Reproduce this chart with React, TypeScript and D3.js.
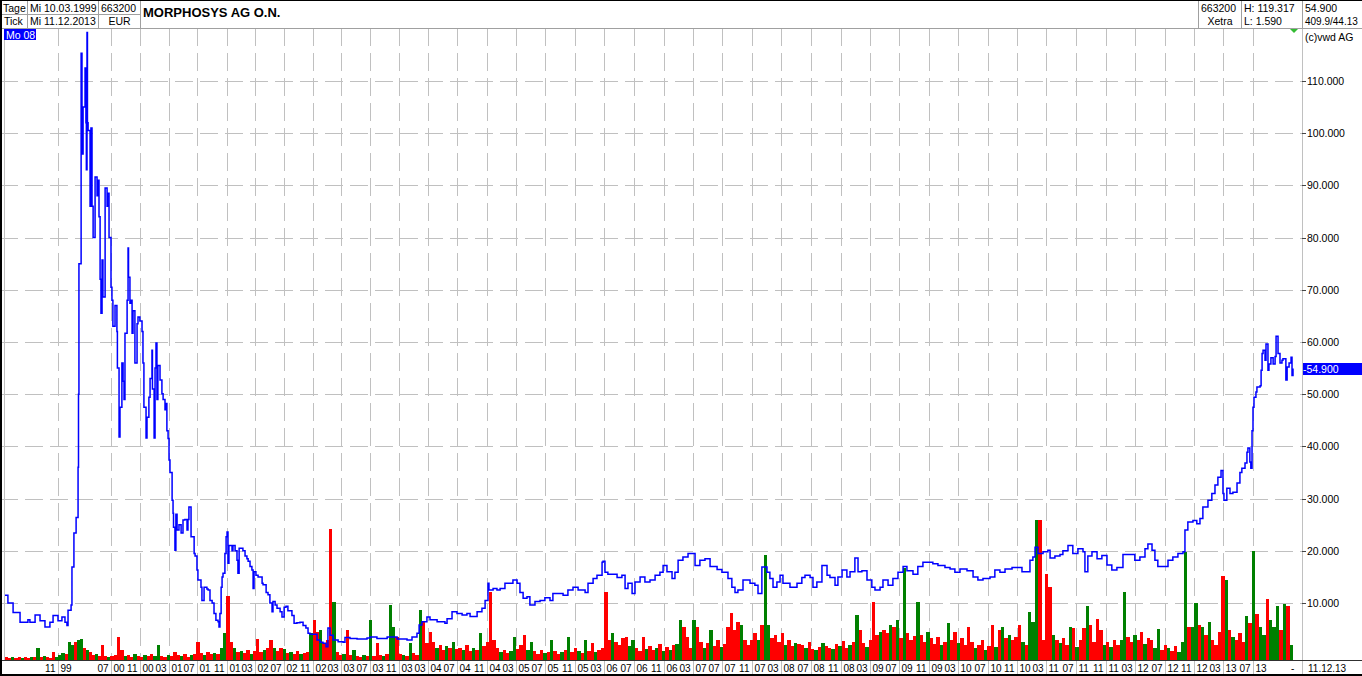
import React from 'react';
import * as d3 from 'd3';

// ---------- DATA ----------
// Daily close (EUR)
const priceSeries: [string, number][] = [
  ["1999-03-10", 11.5], ["1999-03-23", 10.0], ["1999-04-15", 8.2], ["1999-05-16", 6.3], ["1999-06-07", 6.3],
  ["1999-06-20", 6.8], ["1999-06-29", 6.3], ["1999-07-22", 7.7], ["1999-08-13", 6.6], ["1999-09-04", 5.4],
  ["1999-09-26", 6.3], ["1999-10-10", 7.6], ["1999-11-01", 6.6], ["1999-11-19", 7.3], ["1999-12-03", 6.3],
  ["1999-12-12", 5.7], ["1999-12-17", 8.6], ["1999-12-31", 9.6], ["2000-01-04", 16.9], ["2000-01-13", 23.4],
  ["2000-01-23", 26.4], ["2000-02-01", 36.0], ["2000-02-03", 50.0], ["2000-02-05", 75.0], ["2000-02-15", 115.3],
  ["2000-02-19", 96.0], ["2000-02-24", 105.0], ["2000-03-04", 112.5], ["2000-03-08", 102.0], ["2000-03-10", 93.0],
  ["2000-03-13", 119.3], ["2000-03-15", 102.0], ["2000-03-18", 100.5], ["2000-03-27", 86.0], ["2000-03-31", 101.0],
  ["2000-04-05", 86.0], ["2000-04-10", 80.0], ["2000-04-19", 91.6], ["2000-04-28", 88.0], ["2000-05-02", 91.0],
  ["2000-05-07", 84.0], ["2000-05-12", 72.0], ["2000-05-16", 65.5], ["2000-05-21", 75.7], ["2000-05-25", 68.6],
  ["2000-06-04", 89.5], ["2000-06-13", 86.0], ["2000-06-15", 88.5], ["2000-06-22", 80.0], ["2000-07-01", 70.5],
  ["2000-07-05", 68.0], ["2000-07-09", 63.0], ["2000-07-18", 67.0], ["2000-07-26", 62.0], ["2000-07-28", 55.0],
  ["2000-08-04", 41.8], ["2000-08-08", 47.5], ["2000-08-16", 56.0], ["2000-08-21", 52.5], ["2000-08-25", 49.0],
  ["2000-08-29", 61.7], ["2000-09-07", 68.0], ["2000-09-11", 78.0], ["2000-09-13", 72.4], ["2000-09-19", 67.4],
  ["2000-09-23", 68.0], ["2000-09-28", 61.7], ["2000-10-02", 66.0], ["2000-10-10", 56.0], ["2000-10-19", 63.5],
  ["2000-10-23", 64.8], ["2000-10-31", 64.0], ["2000-11-09", 62.0], ["2000-11-13", 56.0], ["2000-11-17", 47.5],
  ["2000-11-26", 41.6], ["2000-11-30", 45.6], ["2000-12-08", 49.4], ["2000-12-13", 53.0], ["2000-12-21", 58.4],
  ["2000-12-23", 51.0], ["2000-12-30", 41.6], ["2001-01-03", 55.0], ["2001-01-07", 59.8], ["2001-01-11", 49.0],
  ["2001-01-15", 55.5], ["2001-01-24", 52.7], ["2001-02-01", 50.1], ["2001-02-06", 49.0], ["2001-02-14", 47.0],
  ["2001-02-18", 48.2], ["2001-02-22", 43.0], ["2001-02-27", 41.5], ["2001-03-03", 37.4], ["2001-03-07", 35.0],
  ["2001-03-16", 29.7], ["2001-03-20", 27.2], ["2001-03-22", 24.5], ["2001-03-28", 20.1], ["2001-04-01", 27.0],
  ["2001-04-06", 24.0], ["2001-04-14", 25.0], ["2001-04-23", 23.4], ["2001-05-01", 25.9], ["2001-05-09", 26.0],
  ["2001-05-18", 24.0], ["2001-05-22", 26.0], ["2001-05-26", 28.4], ["2001-06-04", 22.7], ["2001-06-12", 22.7],
  ["2001-06-17", 19.5], ["2001-06-21", 19.0], ["2001-06-29", 16.3], ["2001-07-03", 14.4], ["2001-07-16", 13.0],
  ["2001-07-20", 10.5], ["2001-07-29", 13.0], ["2001-08-10", 12.7], ["2001-08-15", 12.5], ["2001-08-23", 10.5],
  ["2001-09-01", 10.0], ["2001-09-09", 8.0], ["2001-09-17", 6.7], ["2001-09-26", 6.4], ["2001-09-30", 5.4],
  ["2001-10-04", 8.0], ["2001-10-09", 13.0], ["2001-10-13", 15.0], ["2001-10-17", 15.7], ["2001-10-25", 19.5],
  ["2001-10-30", 22.7], ["2001-11-03", 23.6], ["2001-11-07", 17.6], ["2001-11-11", 21.0], ["2001-11-16", 21.0],
  ["2001-11-24", 20.0], ["2001-11-28", 21.0], ["2001-12-07", 20.0], ["2001-12-15", 18.2], ["2001-12-19", 15.7],
  ["2001-12-24", 20.5], ["2002-01-01", 20.5], ["2002-01-09", 20.0], ["2002-01-18", 19.0], ["2002-01-26", 18.5],
  ["2002-01-31", 18.0], ["2002-02-08", 17.0], ["2002-02-16", 16.3], ["2002-02-21", 12.8], ["2002-02-25", 16.0],
  ["2002-03-05", 15.3], ["2002-03-14", 15.0], ["2002-03-31", 13.8], ["2002-04-04", 13.5], ["2002-04-17", 12.0],
  ["2002-04-25", 11.6], ["2002-05-03", 10.0], ["2002-05-12", 8.3], ["2002-05-16", 10.3], ["2002-05-25", 9.6],
  ["2002-06-02", 9.0], ["2002-06-15", 8.3], ["2002-06-23", 7.3], ["2002-07-02", 9.2], ["2002-07-10", 9.4],
  ["2002-07-18", 8.5], ["2002-08-04", 7.6], ["2002-08-13", 6.1], ["2002-08-25", 6.2], ["2002-09-07", 6.3],
  ["2002-09-20", 5.7], ["2002-10-02", 5.2], ["2002-10-11", 4.2], ["2002-10-19", 4.0], ["2002-11-01", 4.0],
  ["2002-11-18", 2.9], ["2002-12-01", 2.5], ["2002-12-13", 2.3], ["2002-12-26", 1.6], ["2003-01-03", 5.2],
  ["2003-01-12", 3.8], ["2003-01-25", 2.9], ["2003-02-15", 2.6], ["2003-03-08", 2.5], ["2003-03-16", 3.4],
  ["2003-04-06", 3.2], ["2003-05-06", 3.1], ["2003-06-17", 3.3], ["2003-06-30", 3.5], ["2003-07-29", 3.2],
  ["2003-09-10", 3.5], ["2003-10-22", 3.1], ["2003-12-03", 2.9], ["2003-12-24", 3.5], ["2004-01-14", 4.2],
  ["2004-01-23", 5.8], ["2004-02-04", 6.4], ["2004-02-25", 7.3], ["2004-03-09", 6.8], ["2004-04-08", 6.4],
  ["2004-05-11", 6.1], ["2004-05-20", 7.0], ["2004-06-10", 8.3], ["2004-07-01", 8.0], ["2004-07-22", 7.7],
  ["2004-08-11", 8.0], ["2004-08-24", 7.4], ["2004-09-22", 8.3], ["2004-10-12", 9.0], ["2004-10-25", 10.5],
  ["2004-11-06", 13.8], ["2004-11-10", 12.5], ["2004-11-27", 12.8], ["2004-12-13", 12.5], ["2004-12-26", 12.8],
  ["2005-01-15", 13.8], ["2005-01-28", 13.8], ["2005-02-17", 14.4], ["2005-03-06", 13.8], ["2005-03-18", 12.0],
  ["2005-03-31", 10.9], ["2005-04-16", 11.2], ["2005-04-28", 9.6], ["2005-05-19", 10.3], ["2005-06-09", 10.5],
  ["2005-06-29", 11.0], ["2005-07-20", 10.5], ["2005-08-01", 11.8], ["2005-08-30", 11.8], ["2005-09-12", 11.5],
  ["2005-10-02", 12.5], ["2005-10-23", 13.0], ["2005-11-13", 12.5], ["2005-12-12", 12.0], ["2005-12-24", 13.8],
  ["2006-01-14", 14.7], ["2006-01-30", 15.3], ["2006-02-20", 17.8], ["2006-02-24", 18.0], ["2006-03-04", 15.9],
  ["2006-03-16", 15.5], ["2006-04-06", 15.5], ["2006-04-23", 14.9], ["2006-05-13", 15.3], ["2006-05-26", 12.8],
  ["2006-06-07", 13.8], ["2006-06-24", 11.8], ["2006-07-06", 14.0], ["2006-07-27", 15.0], ["2006-08-16", 14.0],
  ["2006-09-06", 14.4], ["2006-09-27", 15.3], ["2006-10-17", 15.9], ["2006-10-30", 17.2], ["2006-11-15", 16.0],
  ["2006-12-06", 14.7], ["2006-12-18", 15.9], ["2006-12-31", 18.2], ["2007-01-20", 18.8], ["2007-02-10", 19.5],
  ["2007-03-02", 19.5], ["2007-03-11", 17.2], ["2007-03-31", 18.2], ["2007-04-21", 18.5], ["2007-05-12", 17.0],
  ["2007-06-10", 16.4], ["2007-06-30", 15.9], ["2007-07-25", 14.7], ["2007-08-10", 13.0], ["2007-08-23", 12.0],
  ["2007-09-04", 12.5], ["2007-09-25", 14.4], ["2007-10-24", 13.8], ["2007-11-13", 13.4], ["2007-11-26", 11.8],
  ["2007-12-12", 16.9], ["2008-01-02", 15.9], ["2008-01-14", 14.7], ["2008-01-27", 13.0], ["2008-02-12", 14.0],
  ["2008-02-25", 15.3], ["2008-03-08", 13.8], ["2008-04-06", 13.0], ["2008-05-05", 13.8], ["2008-05-25", 14.9],
  ["2008-06-07", 15.3], ["2008-06-28", 14.9], ["2008-07-10", 13.0], ["2008-07-26", 14.0], ["2008-08-16", 17.2],
  ["2008-09-06", 15.3], ["2008-09-18", 14.9], ["2008-10-09", 13.4], ["2008-10-21", 15.0], ["2008-11-07", 16.3],
  ["2008-11-27", 15.0], ["2008-12-10", 16.0], ["2008-12-30", 18.6], ["2009-01-12", 16.0], ["2009-01-28", 16.2],
  ["2009-02-18", 14.4], ["2009-03-10", 13.0], ["2009-03-23", 12.5], ["2009-04-13", 13.0], ["2009-04-25", 14.4],
  ["2009-05-16", 13.4], ["2009-06-05", 14.7], ["2009-06-26", 15.9], ["2009-07-17", 17.0], ["2009-08-02", 16.2],
  ["2009-08-27", 15.5], ["2009-09-16", 17.0], ["2009-10-07", 17.8], ["2009-10-28", 17.8], ["2009-11-17", 17.5],
  ["2009-12-08", 17.2], ["2010-01-06", 16.8], ["2010-01-27", 16.5], ["2010-02-16", 15.9], ["2010-03-09", 16.5],
  ["2010-04-07", 16.2], ["2010-05-02", 15.0], ["2010-05-22", 14.4], ["2010-06-12", 14.7], ["2010-07-11", 15.0],
  ["2010-07-31", 16.3], ["2010-08-21", 15.9], ["2010-09-11", 16.5], ["2010-10-10", 16.8], ["2010-10-30", 16.8],
  ["2010-11-20", 16.0], ["2010-12-11", 16.0], ["2010-12-23", 18.2], ["2011-01-04", 18.8], ["2011-01-13", 20.7],
  ["2011-01-25", 19.5], ["2011-02-15", 19.8], ["2011-03-07", 20.1], ["2011-03-16", 18.6], ["2011-04-05", 19.0],
  ["2011-04-26", 19.3], ["2011-05-08", 20.0], ["2011-05-29", 21.0], ["2011-06-18", 19.5], ["2011-07-09", 20.4],
  ["2011-07-30", 19.8], ["2011-08-07", 16.0], ["2011-08-19", 19.0], ["2011-09-05", 19.8], ["2011-09-26", 18.5],
  ["2011-10-16", 19.1], ["2011-11-06", 17.3], ["2011-11-26", 16.3], ["2011-12-17", 16.8], ["2012-01-11", 19.3],
  ["2012-02-09", 19.3], ["2012-02-29", 18.2], ["2012-03-21", 18.8], ["2012-04-11", 20.4], ["2012-04-23", 21.3],
  ["2012-05-10", 20.1], ["2012-05-22", 18.2], ["2012-06-03", 17.0], ["2012-06-24", 17.0], ["2012-07-15", 18.2],
  ["2012-08-04", 18.8], ["2012-08-25", 19.5], ["2012-09-15", 19.8], ["2012-09-23", 24.0], ["2012-10-05", 25.5],
  ["2012-10-26", 25.8], ["2012-11-11", 25.2], ["2012-11-24", 26.2], ["2012-12-06", 28.4], ["2012-12-27", 29.7],
  ["2013-01-12", 31.0], ["2013-01-25", 32.6], ["2013-02-06", 34.1], ["2013-02-19", 35.4], ["2013-02-27", 31.0],
  ["2013-03-03", 29.7], ["2013-03-15", 32.0], ["2013-03-28", 31.0], ["2013-04-09", 31.2], ["2013-04-26", 33.0],
  ["2013-05-08", 35.0], ["2013-05-16", 35.8], ["2013-05-29", 36.8], ["2013-06-06", 38.9], ["2013-06-10", 39.7],
  ["2013-06-18", 37.0], ["2013-06-22", 35.8], ["2013-06-27", 43.0], ["2013-07-01", 47.5], ["2013-07-05", 49.4],
  ["2013-07-13", 50.4], ["2013-07-17", 51.4], ["2013-07-30", 51.6], ["2013-08-03", 54.6], ["2013-08-07", 57.8],
  ["2013-08-11", 58.4], ["2013-08-19", 56.5], ["2013-08-23", 59.6], ["2013-08-31", 54.6], ["2013-09-04", 55.8],
  ["2013-09-12", 57.0], ["2013-09-21", 55.8], ["2013-09-29", 57.2], ["2013-10-03", 61.1], ["2013-10-09", 61.1],
  ["2013-10-11", 57.8], ["2013-10-19", 56.0], ["2013-10-27", 56.5], ["2013-10-31", 56.8], ["2013-11-08", 56.8],
  ["2013-11-12", 52.7], ["2013-11-17", 55.2], ["2013-11-25", 56.0], ["2013-12-03", 57.1], ["2013-12-07", 53.6],
  ["2013-12-11", 54.9],
];

// Two-week volume (10k shares), starting 1999-03-10; positive = up period (green), negative = down period (red)
const volumeStart = "1999-03-10";
const volumeStepDays = 14;
const volumes: number[] = [
  -3, -2, 3, -2, -3, 2, -3, -2, 3, -3, 12, -3, 4, -3, -2, -8, 3,
  5, 7, -6, 18, 15, -18, 20, 21, -12, 10, -8, -5, 6, -4, -15, -4, 3, -4,
  -5, -23, -10, 4, -5, -3, 6, -4, -3, 5,
  -4, -6, 4, 15, -4, -3, 5, -4, -8, -5,
  4, -6, -3, 5, -6, -18, -7, 5, -8, -6,
  7, -6, 12, 27, -64, -18, 12, -8, 9, -7,
  -10, 6, -9, -21, -8, 10, -12, -20, 12, -9,
  -12, 11, -7, 8, -6, -9, 6, -7, -8, 27,
  -40, -28, 30, -17, -20, -131, 58, -8, -5, 6,
  -30, -5, 10, -4, -3, 5, -4, 40, -4, -17,
  -5, 4, -6, 55, 33, -23, -6, 5, -4, 17,
  -7, -5, 50, -38, -17, -28, -18, 12, -15, -10,
  14, -12, 18, -11,
  -12, 10, -15, -9, 12, -10, 27, -14, -18, -68, -20,
  -12, 8, -10, -7, 9, 23, -11, -15, -25, 10,
  18, -9, -6, -10, 7, -8, 20, -9, -6, 8,
  -10, 23, -8, -12, 9, -7, 20, -9, -17, 8,
  -10, -12, -68, -20, 27, -18, -15, -22, -23, 14,
  20, -12, -9, -23, 11, -14, -10, 12, -16, 9,
  -13, 10, -15, 16, 40, -33, -23, -12, 40, -33,
  -18, 12, -17, 30, -14, -20, 13, -16, -33, -47,
  -30, -38, 35, -20, -15, -20, -27, 20, -35, 105,
  35, -22, -25, -18, -27, 15, -20, -14, 17, -16,
  -15, 12, -18, -11, 10, -13, 17, -14, -12, 11,
  -16, 14, -19, -12, 15, -18, 45, -30, -17, 13,
  -20, -58, -25, 28, -30, -27, 35, -33, 40, -22,
  92, -27, -20, -24, 58, -25, -18, 28, -22, -16,
  -23, 15, -18, 37, -20, -28, 17, -22, -15, -33,
  -18, 12, -15, -20, 10, -14, -35, 13, -30, 33,
  -22, 25, -20, -23, -35, 18, -15, 48, 38, 140,
  -140, -20, -86, -73, 25, -20, 17, -22, -15, 33,
  -32, 13, -20, -32, 54, -35, -18, -41, -30, 15,
  -18, 13, -20, -15, 20, 68, -23, -18, 25, -20,
  -28, 16, -22, -20, 12, 31, -10, -15, 12, -9,
  -14, 8, 18, 108, -33, 33, 57, -35, 33, -25,
  38, -20, -15, -28, -84, 80, -30, 23, -20, -27,
  -18, 44, -37, 109,
  -46, 33, 25, -61, 40, 33, 54, -30, 56, -54, 15,
];

// x-axis tick months (MM|YY labels)
const monthTicks: string[] = [
  "1999-11", "2000-07", "2000-11",
  "2001-03", "2001-07", "2001-11", "2002-03", "2002-07", "2002-11",
  "2003-03", "2003-07", "2003-11", "2004-03", "2004-07", "2004-11",
  "2005-03", "2005-07", "2005-11", "2006-03", "2006-07", "2006-11",
  "2007-03", "2007-07", "2007-11", "2008-03", "2008-07", "2008-11",
  "2009-03", "2009-07", "2009-11", "2010-03", "2010-07", "2010-11",
  "2011-03", "2011-07", "2011-11", "2012-03", "2012-07", "2012-11",
  "2013-03", "2013-07",
];
const priceTicks: number[] = [10, 20, 30, 40, 50, 60, 70, 80, 90, 100, 110];
const lastPrice = 54.9;

// Header texts
const headerLeft = [["Tage", "Mi 10.03.1999", "663200"], ["Tick", "Mi 11.12.2013", "EUR"]];
const title = "MORPHOSYS AG O.N.";
const headerRight = [["663200", "H: 119.317", "54.900"], ["Xetra", "L: 1.590", "409.9/44.13"]];
const periodLabel = "Mo 08";
const copyright = "(c)vwd AG";
const endDateLabel = "11.12.13";

// ---------- CHART ----------
const FONT = "'Liberation Sans', Arial, Helvetica, sans-serif";
const parseDay = d3.timeParse("%Y-%m-%d");
const parseMonth = d3.timeParse("%Y-%m");

export default function App() {
  const W = 1362, H = 676;
  const plotL = 4, plotR = 1302, plotT = 28, plotB = 660;

  // trading-day axis is slightly non-uniform in time: piecewise linear time scale
  const x = d3.scaleTime()
    .domain(["1999-03-10", "1999-11-01", "2000-07-01", "2004-07-01", "2013-07-01", "2013-12-11"].map(s => parseDay(s) as Date))
    .range([5, 58, 111, 457, 1253, 1293]);
  const y = d3.scaleLinear().domain([0, 110]).range([655.2, 81]);
  const vh = d3.scaleLinear().domain([0, 150]).range([0, 150]);

  const pts = priceSeries.map(([d, v]) => [parseDay(d) as Date, v] as [Date, number]);
  const line = d3.line<[Date, number]>().x(d => x(d[0])).y(d => y(d[1])).curve(d3.curveStepAfter);

  const vStart = parseDay(volumeStart) as Date;
  const bars = volumes.map((v, i) => {
    const d0 = d3.timeDay.offset(vStart, i * volumeStepDays);
    const d1 = d3.timeDay.offset(vStart, (i + 1) * volumeStepDays);
    const x0 = x(d0), x1 = Math.min(x(d1), 1294);
    const h = vh(Math.abs(v));
    return { x: x0, w: Math.max(1, x1 - x0), h, up: v > 0 };
  });

  const grid = "#c0c0c0";
  const dash = "18,7";
  const ticksX = monthTicks.map(m => {
    const d = parseMonth(m) as Date;
    return { x: Math.round(x(d)) + 0.5, mm: d3.timeFormat("%m")(d), yy: d3.timeFormat("%y")(d) };
  });

  return (
    <svg width={W} height={H} style={{ position: 'absolute', left: 0, top: 0, background: '#fff' }}
      fontFamily={FONT} fontSize={10.5}>
      <defs>
        <clipPath id="plot"><rect x={plotL} y={plotT} width={plotR - plotL} height={plotB - plotT} /></clipPath>
      </defs>
      <rect x={0} y={0} width={W} height={H} fill="#fff" />

      {/* horizontal grid */}
      {priceTicks.map(t => (
        <line key={'h' + t} x1={0} x2={plotR} y1={Math.round(y(t)) + 0.5} y2={Math.round(y(t)) + 0.5}
          stroke={grid} strokeWidth={1} strokeDasharray={dash} />
      ))}
      {/* vertical grid */}
      {ticksX.map((t, i) => (
        <g key={'v' + i}>
          <line x1={t.x} x2={t.x} y1={plotT} y2={plotB} stroke={grid} strokeWidth={1} strokeDasharray={dash} />
          <line x1={t.x} x2={t.x} y1={plotB} y2={H} stroke={grid} strokeWidth={1} />
        </g>
      ))}
      <line x1={plotL + 0.5} x2={plotL + 0.5} y1={plotT} y2={plotB} stroke={grid} />

      {/* volume */}
      <g clipPath="url(#plot)" shapeRendering="crispEdges">
        {bars.map((b, i) => (
          <rect key={'b' + i} x={b.x} y={plotB - b.h} width={b.w} height={b.h} fill={b.up ? '#008000' : '#ff0000'} />
        ))}
      </g>

      {/* price */}
      <path d={line(pts) || ''} fill="none" stroke="#0000ff" strokeWidth={1.5} clipPath="url(#plot)" />

      {/* right axis */}
      <line x1={plotR + 0.5} x2={plotR + 0.5} y1={plotT} y2={H} stroke={grid} />
      {priceTicks.map(t => (
        <g key={'yl' + t}>
          <line x1={plotR} x2={plotR + 4} y1={Math.round(y(t)) + 0.5} y2={Math.round(y(t)) + 0.5} stroke="#444" />
          <text x={plotR + 5} y={y(t) + 4} fill="#000">{d3.format('.3f')(t)}</text>
        </g>
      ))}
      <rect x={plotR + 1} y={Math.round(y(lastPrice)) - 6} width={W - plotR - 1} height={12} fill="#0000ff" />
      <text x={plotR + 1} y={y(lastPrice) + 4} fill="#fff">{'-' + d3.format('.3f')(lastPrice)}</text>

      {/* bottom axis */}
      <line x1={0} x2={W} y1={plotB + 0.5} y2={plotB + 0.5} stroke="#303030" />
      <g fontSize={10}>
        {ticksX.map((t, i) => (
          <g key={'xl' + i}>
            <text x={t.x - 3} y={672} textAnchor="end" fill="#000">{t.mm}</text>
            <text x={t.x + 2} y={672} fill="#000">{t.yy}</text>
          </g>
        ))}
        <text x={1291} y={672} fill="#000">-</text>
        <text x={1308} y={672} fill="#000">{endDateLabel}</text>
      </g>

      {/* header */}
      <line x1={0} x2={W} y1={28.5} y2={28.5} stroke="#a0a0a0" />
      <line x1={0} x2={140} y1={14.5} y2={14.5} stroke="#a0a0a0" />
      {[27.5, 98.5, 140.5, 1198.5, 1241.5, 1302.5].map(xx => (
        <line key={'hv' + xx} x1={xx} x2={xx} y1={0} y2={28} stroke="#a0a0a0" />
      ))}
      <text x={3} y={11.5}>{headerLeft[0][0]}</text>
      <text x={30} y={11.5}>{headerLeft[0][1]}</text>
      <text x={101} y={11.5}>{headerLeft[0][2]}</text>
      <text x={4} y={25}>{headerLeft[1][0]}</text>
      <text x={30} y={25}>{headerLeft[1][1]}</text>
      <text x={119.5} y={25} textAnchor="middle">{headerLeft[1][2]}</text>
      <text x={143} y={17} fontSize={13} fontWeight="bold">{title}</text>

      <text x={1201} y={11.5}>{headerRight[0][0]}</text>
      <text x={1220} y={25} textAnchor="middle">{headerRight[1][0]}</text>
      <text x={1244} y={11.5}>{headerRight[0][1]}</text>
      <text x={1244} y={25}>{headerRight[1][1]}</text>
      <text x={1305} y={11.5}>{headerRight[0][2]}</text>
      <text x={1305} y={25} fontSize={10}>{headerRight[1][2]}</text>

      <rect x={4} y={29} width={32} height={11} fill="#0000ff" />
      <text x={6} y={38.5} fill="#fff">{periodLabel}</text>
      <path d="M1290,29 L1298,29 L1294,33 Z" fill="#33bb33" />
      <text x={1305} y={41}>{copyright}</text>

      {/* frame */}
      <line x1={0} x2={W} y1={0.5} y2={0.5} stroke="#000" />
      <line x1={1} x2={1} y1={0} y2={H} stroke="#000" strokeWidth={2} />
      <line x1={0} x2={W} y1={675} y2={675} stroke="#000" strokeWidth={2} />
    </svg>
  );
}
